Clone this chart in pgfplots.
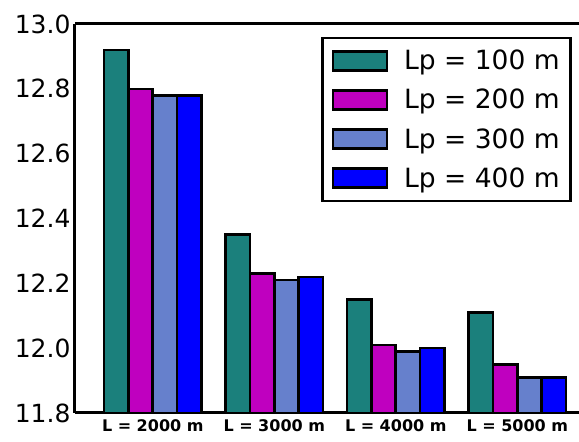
\documentclass[border=0pt]{standalone}
\usepackage{pgfplots}
\pgfplotsset{compat=1.18}
\usepackage{fontspec}
\setmainfont{DejaVu Sans}
\definecolor{c1}{RGB}{27,128,124}
\definecolor{c2}{RGB}{191,0,191}
\definecolor{c3}{RGB}{102,128,204}
\definecolor{c4}{RGB}{0,0,255}
\pgfplotsset{
  mybar/.style={ybar, bar width=0.2, bar shift=0pt, draw=black, line width=2.6pt,
    legend image code/.code={\draw[##1, line width=2.6pt] (0pt,-9.5pt) rectangle (54pt,9.5pt);}}
}
\begin{document}
\begin{tikzpicture}
\useasboundingbox (-75pt,-29pt) rectangle (504pt,413pt);
\begin{axis}[
  at={(0,0)}, anchor=south west,
  scale only axis, width=504pt, height=389pt,
  xmin=-0.24, xmax=3.908, ymin=11.8, ymax=13.0,
  axis x line*=box, axis y line*=left,
  axis line style={line width=3pt},
  major tick length=0pt,
  xtick={0.4,1.4,2.4,3.4},
  xticklabels={L = 2000 m, L = 3000 m, L = 4000 m, L = 5000 m},
  ytick={11.8,12.0,12.2,12.4,12.6,12.8,13.0},
  /pgf/number format/assume math mode=true,
  yticklabel style={/pgf/number format/fixed, /pgf/number format/fixed zerofill, /pgf/number format/precision=1},
  yticklabel style={font=\fontsize{25}{25}\selectfont, xshift=-1pt},
  xticklabel style={font=\fontsize{16}{16}\selectfont\bfseries, yshift=-3pt},
  legend style={at={(0.986,0.967)}, anchor=north east, draw=black, line width=2.6pt,
    font=\fontsize{26.5}{30}\selectfont, row sep=14pt, column sep=14pt, inner xsep=9pt, inner ysep=10pt},
  legend cell align=left,
]
\addplot[mybar, fill=c1] coordinates {(0.1,12.92) (1.1,12.35) (2.1,12.15) (3.1,12.11)};
\addplot[mybar, fill=c2] coordinates {(0.3,12.80) (1.3,12.23) (2.3,12.01) (3.3,11.95)};
\addplot[mybar, fill=c3] coordinates {(0.5,12.78) (1.5,12.21) (2.5,11.99) (3.5,11.91)};
\addplot[mybar, fill=c4] coordinates {(0.7,12.78) (1.7,12.22) (2.7,12.00) (3.7,11.91)};
\legend{Lp = 100 m, Lp = 200 m, Lp = 300 m, Lp = 400 m}
\end{axis}
\end{tikzpicture}
\end{document}
